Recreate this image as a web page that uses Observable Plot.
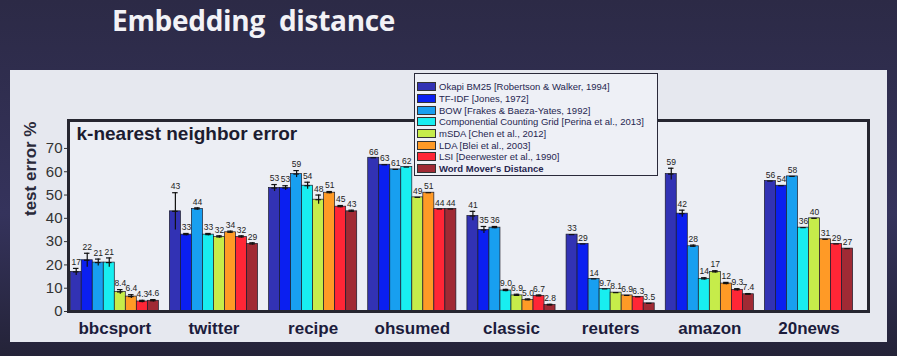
<!DOCTYPE html>
<html>
<head>
<meta charset="utf-8">
<script src="https://cdn.jsdelivr.net/npm/d3@7"></script>
<script src="https://cdn.jsdelivr.net/npm/@observablehq/plot@0.6"></script>
<style>
  html, body { margin: 0; padding: 0; }
  body { width: 897px; height: 356px; position: relative; overflow: hidden;
         background: linear-gradient(180deg, #2c2a46 0%, #35335c 60%, #242338 100%);
         font-family: "Liberation Sans", Arial, sans-serif; }
  #title { position: absolute; left: 112px; top: 1px; color: #f2f2f6;
           font-family: "Open Sans", sans-serif; font-weight: 700; font-size: 28px; letter-spacing: -0.3px; }
  #panel { position: absolute; left: 10px; top: 70px; width: 877px; height: 272px; background: #e6e8ef; }
  #chart { position: absolute; left: 0; top: 0; }
  #legend { position: absolute; left: 414px; top: 73px; width: 244px; height: 103px; background: #eef0f6;
            border: 1.5px solid #2a2a3a; box-sizing: border-box; padding: 7px 0 0 2px; }
  .row { display: flex; align-items: center; height: 11.7px; font-size: 9.5px; color: #262650; white-space: nowrap; }
  .sw { width: 19px; height: 9px; margin-right: 3px; border: 1px solid #333; box-sizing: border-box; flex: none; }
</style>
</head>
<body>
<div id="title">Embedding&nbsp; distance</div>
<div id="panel"></div>
<div id="chart"></div>
<div id="legend"></div>
<script>
const categories = ["bbcsport", "twitter", "recipe", "ohsumed", "classic", "reuters", "amazon", "20news"];
const methods = [
  "Okapi BM25 [Robertson & Walker, 1994]",
  "TF-IDF [Jones, 1972]",
  "BOW [Frakes & Baeza-Yates, 1992]",
  "Componential Counting Grid [Perina et al., 2013]",
  "mSDA [Chen et al., 2012]",
  "LDA [Blei et al., 2003]",
  "LSI [Deerwester et al., 1990]",
  "Word Mover's Distance"
];
const colors = ["#3232b4", "#0b1ff0", "#189ff0", "#18eef0", "#c6ec4a", "#ff9a26", "#ff2636", "#a02a34"];
// test error % per dataset, in method order
const bbcsport = [17, 22, 21, 21, 8.4, 6.4, 4.3, 4.6];
const twitter  = [43, 33, 44, 33, 32, 34, 32, 29];
const recipe   = [53, 53, 59, 54, 48, 51, 45, 43];
const ohsumed  = [66, 63, 61, 62, 49, 51, 44, 44];
const classic  = [41, 35, 36, 9.0, 6.9, 5.0, 6.7, 2.8];
const reuters  = [33, 29, 14, 9.7, 8.1, 6.9, 6.3, 3.5];
const amazon   = [59, 42, 28, 14, 17, 12, 9.3, 7.4];
const news20   = [56, 54, 58, 36, 40, 31, 29, 27];
// standard deviation (error bars)
const sdBbcsport = [1.5, 3, 1.5, 2, 1, 0.8, 0.5, 0.5];
const sdTwitter  = [8, 0.5, 0.5, 0.5, 0.5, 0.5, 0.5, 0.5];
const sdRecipe   = [1.5, 1, 1.5, 1.5, 2, 0.5, 0.5, 0.5];
const sdOhsumed  = [0, 0, 0, 0, 0, 0, 0, 0];
const sdClassic  = [2, 1.5, 0.5, 0.5, 0.5, 0.4, 0.4, 0.3];
const sdReuters  = [0, 0, 0, 0, 0, 0, 0, 0];
const sdAmazon   = [2.5, 1.5, 0.5, 0.5, 0.5, 0.5, 0.5, 0.3];
const sd20news   = [0, 0, 0, 0, 0, 0, 0, 0];
const yTicks = [0, 10, 20, 30, 40, 50, 60, 70];

const values = [bbcsport, twitter, recipe, ohsumed, classic, reuters, amazon, news20];
const sds = [sdBbcsport, sdTwitter, sdRecipe, sdOhsumed, sdClassic, sdReuters, sdAmazon, sd20news];
const slots = methods.length + 1; // 8 bars + one gap per group

const rows = [];
categories.forEach((c, ci) => methods.forEach((m, mi) => {
  const v = values[ci][mi];
  rows.push({cat: c, method: m, value: v, sd: sds[ci][mi], pos: ci * slots + mi,
             label: v < 10 ? v.toFixed(1) : String(Math.round(v))});
}));

const chart = Plot.plot({
  width: 897, height: 356,
  marginLeft: 68, marginRight: 29, marginTop: 120, marginBottom: 45,
  style: {background: "transparent", fontFamily: "Liberation Sans, Arial, sans-serif", color: "#222"},
  x: {domain: [-0.2, categories.length * slots + 0.4], axis: null},
  y: {domain: [0, 82], axis: null},
  color: {domain: methods, range: colors},
  marks: [
    Plot.rect([0], {x1: -0.2, x2: categories.length * slots + 0.4, y1: 0, y2: 82, fill: "#eceef4"}),
    Plot.rect(rows, {x1: d => d.pos, x2: d => d.pos + 1, y1: 0, y2: "value", fill: "method", stroke: "#1a1a2a", strokeWidth: 0.7}),
    Plot.ruleX(rows.filter(d => d.sd > 0), {x: d => d.pos + 0.5, y1: d => d.value - d.sd, y2: d => d.value + d.sd, stroke: "#111", strokeWidth: 1.2}),
    Plot.ruleY(rows.filter(d => d.sd > 0), {y: d => d.value + d.sd, x1: d => d.pos + 0.25, x2: d => d.pos + 0.75, stroke: "#111", strokeWidth: 1.2}),
    Plot.ruleY(rows, {y: "value", x1: d => d.pos + 0.25, x2: d => d.pos + 0.75, stroke: "#111", strokeWidth: 1.2}),
    Plot.text(rows, {x: d => d.pos + 0.5, y: d => d.value + d.sd, text: "label", dy: -6, fontSize: 8.5, fill: "#222"}),
    Plot.axisY({ticks: yTicks, tickSize: 4, fontSize: 15, tickPadding: 2, label: null, color: "#333"}),
    Plot.text(["test error %"], {frameAnchor: "left", dx: -38, rotate: -90, fontSize: 17, fontWeight: "bold", fill: "#2a2a3a"}),
    Plot.axisX({ticks: categories.map((c, i) => i * slots + methods.length / 2), tickSize: 0,
                tickFormat: d => categories[Math.round((d - methods.length / 2) / slots)],
                fontSize: 17, fontWeight: "bold", tickPadding: 10, label: null, color: "#1c1c3c"}),
    Plot.text(["k-nearest neighbor error"], {frameAnchor: "top-left", dx: 8, dy: 6, fontSize: 19,
                fontWeight: "bold", fill: "#1c1c30"}),
    Plot.frame({stroke: "#262630", strokeWidth: 3})
  ]
});
document.getElementById("chart").append(chart);

const legend = document.getElementById("legend");
methods.forEach((m, i) => {
  const r = document.createElement("div");
  r.className = "row";
  const s = document.createElement("span");
  s.className = "sw"; s.style.background = colors[i];
  const t = document.createElement("span");
  t.textContent = m;
  if (i === methods.length - 1) t.style.fontWeight = "bold";
  r.append(s, t);
  legend.append(r);
});
</script>
</body>
</html>
